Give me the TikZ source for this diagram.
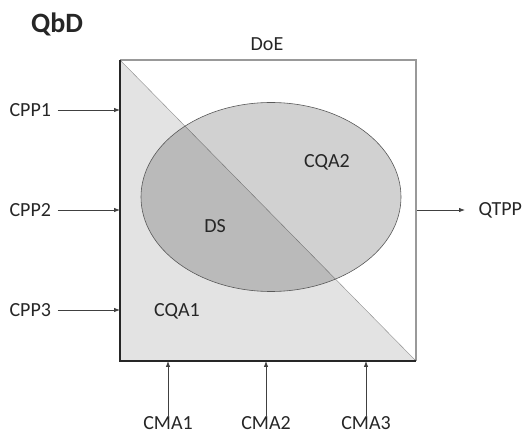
\documentclass[tikz,border=0pt]{standalone}
\usepackage{fontspec}
\setmainfont{Carlito}
\usetikzlibrary{arrows.meta}
\tikzset{
  lbl/.style={font=\fontsize{20}{22}\selectfont, text=black!85},
  arr/.style={-{Latex[length=6pt,width=4.5pt]}, draw=black!75, line width=0.8pt}
}

\begin{document}
\begin{tikzpicture}[x=1pt,y=-1pt]
\useasboundingbox (0,0) rectangle (531,435);
\coordinate (TL) at (120,60);\coordinate (TR) at (416,60);
\coordinate (BL) at (120,361);\coordinate (BR) at (416,361);
\coordinate (C) at (271,197);
\fill[black!11] (TL) -- (BR) -- (BL) -- cycle;
\draw[black!40, line width=1.2pt] (TL) -- (TR) -- (BR);
\draw[black!45] (TL) -- (BR);
\fill[black, opacity=0.18] (C) ellipse (130 and 94.5);
\draw[black!65, line width=0.6pt] (C) ellipse (130 and 94.5);
\draw[black!85, line width=1.6pt] (TL) -- (BL) -- (BR);
\node[lbl, anchor=base, font=\bfseries\fontsize{28}{30}\selectfont] (qbd) at (57,33) {QbD};
\node[lbl] (doe) at (267,44) {DoE};
\node[lbl] (cqa2) at (327,162) {CQA2};
\node[lbl] (ds) at (215,226) {DS};
\node[lbl] (cqa1) at (177,311) {CQA1};
\node[lbl, anchor=west] (cpp1) at (6,110) {CPP1};
\node[lbl, anchor=west] (cpp2) at (6,210) {CPP2};
\node[lbl, anchor=west] (cpp3) at (6,310) {CPP3};
\node[lbl, anchor=west] (qtpp) at (475,210) {QTPP};
\node[lbl] (cma1) at (168,423) {CMA1};
\node[lbl] (cma2) at (266,423) {CMA2};
\node[lbl] (cma3) at (366,423) {CMA3};
\draw[arr, shorten <=3pt] (cpp1.east) -- (cpp1.east -| BL);
\draw[arr, shorten <=3pt] (cpp2.east) -- (cpp2.east -| BL);
\draw[arr, shorten <=3pt] (cpp3.east) -- (cpp3.east -| BL);
\draw[arr, shorten <=1pt, shorten >=10pt] (qtpp.west -| TR) -- (qtpp.west);
\draw[arr, shorten <=-4pt] (cma1.north) -- (cma1.north |- BL);
\draw[arr, shorten <=-4pt] (cma2.north) -- (cma2.north |- BL);
\draw[arr, shorten <=-4pt] (cma3.north) -- (cma3.north |- BL);
\end{tikzpicture}
\end{document}
